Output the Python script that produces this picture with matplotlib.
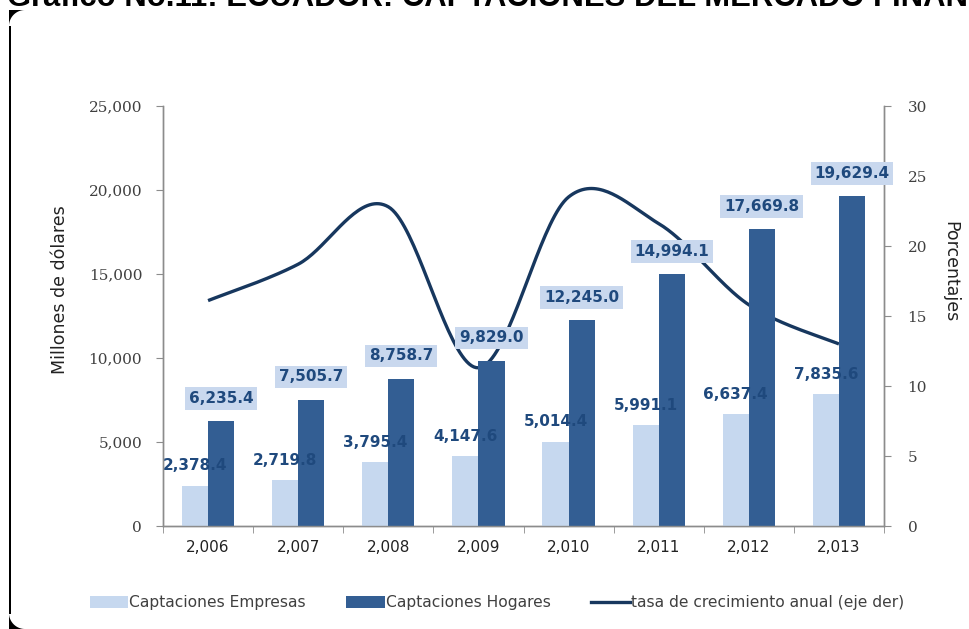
import numpy as np
import matplotlib
matplotlib.use("Agg")
import matplotlib.pyplot as plt
from matplotlib.patches import Patch, Polygon, Rectangle
from matplotlib.lines import Line2D

# Data (millions of USD and annual growth %)
years = ["2,006", "2,007", "2,008", "2,009", "2,010", "2,011", "2,012", "2,013"]
empresas = [2378.4, 2719.8, 3795.4, 4147.6, 5014.4, 5991.1, 6637.4, 7835.6]
hogares = [6235.4, 7505.7, 8758.7, 9829.0, 12245.0, 14994.1, 17669.8, 19629.4]
tasa = [16.1, 18.7, 22.8, 11.3, 23.5, 21.6, 15.8, 13.0]

W, H = 969, 629
fig = plt.figure(figsize=(W / 100, H / 100), dpi=100)
fig.patch.set_facecolor("white")


def fx(x):
    return x / W


def fy(y):
    return 1 - y / H


# Title strip at the very top
fig.text(fx(7), fy(6), "Gráfico No.11: ECUADOR: CAPTACIONES DEL MERCADO FINANCIERO",
         fontsize=22.3, fontweight="bold", family="Liberation Sans",
         ha="left", va="baseline", color="black")

# Frame edge with rounded corners on the left
fig.patches.append(Rectangle((fx(9), fy(614)), fx(2), fy(26) - fy(614),
                             transform=fig.transFigure, color="black", lw=0))
th = np.linspace(np.pi / 2, np.pi, 30)
r = 16
top_arc = [(fx(25 + r * np.cos(t)), fy(26 - r * np.sin(t))) for t in th]
fig.patches.append(Polygon([(fx(9), fy(10)), (fx(25), fy(10))] + top_arc[1:] + [(fx(9), fy(26))],
                           closed=True, transform=fig.transFigure, color="black", lw=0))
bot_arc = [(fx(25 + r * np.cos(t)), fy(613 + r * np.sin(t))) for t in th]
fig.patches.append(Polygon([(fx(9), fy(629)), (fx(25), fy(629))] + bot_arc[1:] + [(fx(9), fy(613))],
                           closed=True, transform=fig.transFigure, color="black", lw=0))

ax = fig.add_axes([fx(163), fy(526), fx(884) - fx(163), fy(106) - fy(526)])
ax2 = ax.twinx()

light = "#C6D8EF"
dark = "#335E93"
navy = "#17375E"
lbl = "#1F497D"

x = np.arange(len(years))
bw = 0.29
ax.bar(x - bw / 2, empresas, bw, color=light, zorder=2)
ax.bar(x + bw / 2, hogares, bw, color=dark, zorder=2)

ax.set_xlim(-0.5, len(years) - 0.5)
ax.set_ylim(0, 25000)
ax2.set_ylim(0, 30)

ax.set_yticks(np.arange(0, 25001, 5000))
ax.set_yticklabels([f"{v:,.0f}" for v in np.arange(0, 25001, 5000)],
                   family="DejaVu Serif", fontsize=11, color="#404040")
ax2.set_yticks(np.arange(0, 31, 5))
ax2.set_yticklabels([str(v) for v in np.arange(0, 31, 5)],
                    family="DejaVu Serif", fontsize=11, color="#404040")

ax.set_xticks(x)
ax.set_xticklabels(years, fontsize=11, color="#222222")
ax.set_xticks(np.arange(-0.5, len(years), 1), minor=True)
ax.tick_params(axis="x", which="major", length=0, pad=10)
ax.tick_params(axis="x", which="minor", length=5, color="#8C8C8C")
ax.tick_params(axis="y", length=5, color="#8C8C8C", pad=10)
ax2.tick_params(axis="y", length=5, color="#8C8C8C", pad=12)

for a in (ax, ax2):
    a.spines["top"].set_visible(False)
    for s in ("left", "right", "bottom"):
        a.spines[s].set_color("#8C8C8C")
        a.spines[s].set_linewidth(1.0)

fig.text(fx(60), fy(290), "Millones de dólares", rotation=90, fontsize=12.5,
         ha="center", va="center", color="#222222")
fig.text(fx(950), fy(272), "Porcentajes", rotation=-90, fontsize=12.5,
         ha="center", va="center", color="#222222")

# Smoothed growth line (cubic Bezier through each point)
pts = np.column_stack([x, tasa]).astype(float)
n = len(pts)
curve = []
for i in range(n - 1):
    p0 = pts[max(i - 1, 0)]
    p1 = pts[i]
    p2 = pts[i + 1]
    p3 = pts[min(i + 2, n - 1)]
    c1 = p1 + (p2 - p0) / 6
    c2 = p2 - (p3 - p1) / 6
    t = np.linspace(0, 1, 40)[:, None]
    seg = ((1 - t) ** 3) * p1 + 3 * ((1 - t) ** 2) * t * c1 + 3 * (1 - t) * t ** 2 * c2 + t ** 3 * p2
    curve.append(seg if i == 0 else seg[1:])
curve = np.vstack(curve)
ax2.plot(curve[:, 0], curve[:, 1], color=navy, lw=2.4, zorder=3, solid_capstyle="butt")

ax.set_zorder(ax2.get_zorder() + 1)
ax.patch.set_visible(False)

# Value labels
for i in range(n):
    ax.annotate(f"{empresas[i]:,.1f}", (x[i] - bw / 2, empresas[i]),
                xytext=(0, 14.5), textcoords="offset points",
                ha="center", va="center", fontsize=11, fontweight="bold",
                color=lbl, zorder=5)
    ax.annotate(f"{hogares[i]:,.1f}", (x[i] + bw / 2, hogares[i]),
                xytext=(0, 16.5), textcoords="offset points",
                ha="center", va="center", fontsize=11, fontweight="bold",
                color=lbl, zorder=5,
                bbox=dict(boxstyle="square,pad=0.25", fc="#C9D8EE", ec="none"))

handles = [Patch(facecolor=light, edgecolor="none"),
           Patch(facecolor=dark, edgecolor="none"),
           Line2D([], [], color=navy, lw=2.4)]
labels = ["Captaciones Empresas", "Captaciones Hogares", "tasa de crecimiento anual (eje der)"]
fig.legend(handles, labels, loc="center", bbox_to_anchor=(fx(497), fy(603)), ncol=3,
           frameon=False, fontsize=11.2, handlelength=2.45, handleheight=0.85,
           handletextpad=0.1, columnspacing=2.6, labelcolor="#404040")

fig.savefig("out.png", dpi=100, facecolor="white")
